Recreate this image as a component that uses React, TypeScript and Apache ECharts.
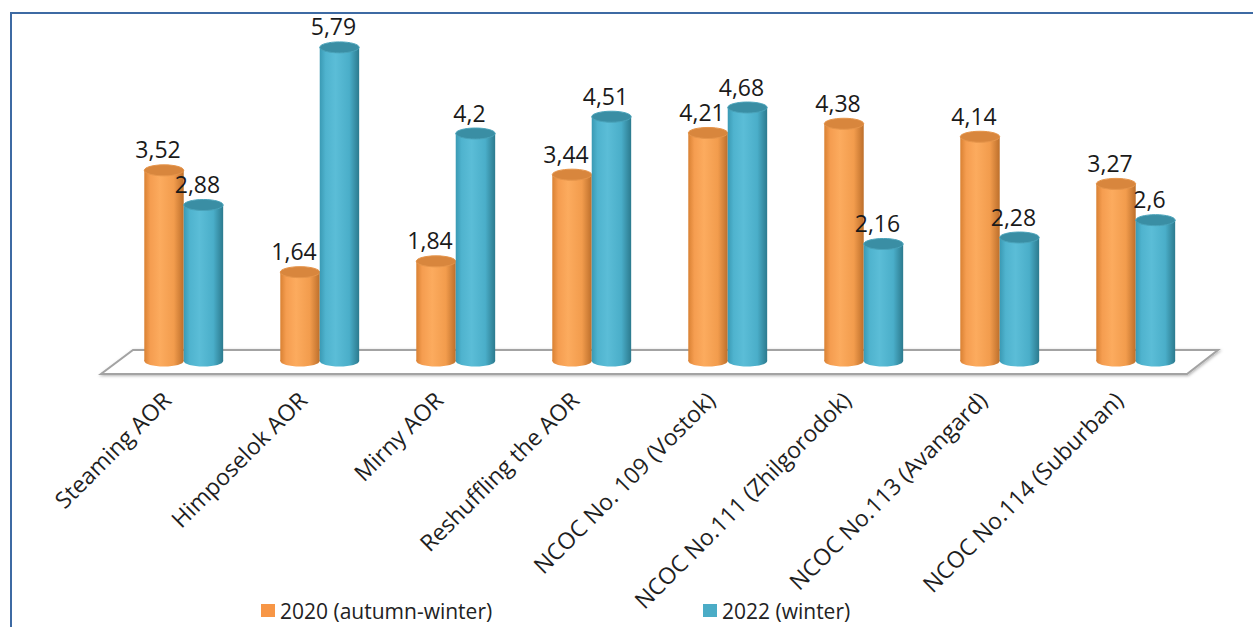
import React, { useEffect, useRef } from "react";
import * as echarts from "echarts";

const categories = [
  "Steaming AOR",
  "Himposelok AOR",
  "Mirny AOR",
  "Reshuffling the AOR",
  "NCOC No. 109 (Vostok)",
  "NCOC No.111 (Zhilgorodok)",
  "NCOC No.113 (Avangard)",
  "NCOC No.114 (Suburban)",
];
const series2020 = [3.52, 1.64, 1.84, 3.44, 4.21, 4.38, 4.14, 3.27];
const series2022 = [2.88, 5.79, 4.2, 4.51, 4.68, 2.16, 2.28, 2.6];
const seriesNames = ["2020 (autumn-winter)", "2022 (winter)"];

const FONT = "Open Sans";

const orangeBody = [
  { offset: 0, color: "#d98133" },
  { offset: 0.15, color: "#f59d50" },
  { offset: 0.4, color: "#fcab5e" },
  { offset: 0.75, color: "#f29c4d" },
  { offset: 1, color: "#bd6f2b" },
];
const blueBody = [
  { offset: 0, color: "#3a9ab4" },
  { offset: 0.15, color: "#4fb3ce" },
  { offset: 0.4, color: "#5bbdd7" },
  { offset: 0.75, color: "#4aaec9" },
  { offset: 1, color: "#2c7a8e" },
];

function fmt(v: number) {
  return String(v).replace(".", ",");
}

function makeRender(offsetFrac: number, body: any[], topColor: string, rimColor: string) {
  return (params: any, api: any) => {
    const i = api.value(0);
    const v = api.value(1);
    const top = api.coord([i, v]);
    const base = api.coord([i, 0]);
    const bw = api.size([1, 0])[0];
    const w = bw * 0.29;
    const cx = top[0] + bw * offsetFrac;
    const rx = w / 2;
    const ry = 5.5;
    const grad = { type: "linear", x: 0, y: 0, x2: 1, y2: 0, colorStops: body };
    return {
      type: "group",
      children: [
        {
          type: "ellipse",
          shape: { cx, cy: base[1], rx, ry },
          style: { fill: grad },
        },
        {
          type: "rect",
          shape: { x: cx - rx, y: top[1], width: w, height: base[1] - top[1] },
          style: { fill: grad },
        },
        {
          type: "ellipse",
          shape: { cx, cy: top[1], rx, ry },
          style: { fill: topColor, stroke: rimColor, lineWidth: 1 },
        },
        {
          type: "text",
          x: cx - 6,
          y: top[1] - ry - 4,
          style: {
            text: fmt(v),
            fontFamily: FONT,
            fontSize: 23,
            fill: "#1a1a1a",
            align: "center",
            verticalAlign: "bottom",
          },
        },
      ],
    };
  };
}

export default function App() {
  const ref = useRef<HTMLDivElement>(null);
  useEffect(() => {
    const chart = echarts.init(ref.current!, null, { renderer: "svg" });
    const legendBase = {
      top: 600,
      padding: 0,
      itemWidth: 14,
      itemHeight: 13,
      icon: "rect",
      textStyle: { fontFamily: FONT, fontSize: 21, color: "#222" },
    };
    chart.setOption({
      animation: false,
      backgroundColor: "#ffffff",
      grid: { left: 116, right: 49, top: 36, bottom: 266, containLabel: false },
      legend: [
        { ...legendBase, left: 261, data: [seriesNames[0]] },
        { ...legendBase, left: 703, data: [seriesNames[1]] },
      ],
      xAxis: {
        type: "category",
        data: categories,
        axisLine: { show: false },
        axisTick: { show: false },
        axisLabel: {
          rotate: 45,
          interval: 0,
          margin: 17,
          padding: [0, 25, 0, 0],
          fontFamily: FONT,
          fontSize: 23,
          color: "#1f1f1f",
        },
      },
      yAxis: { type: "value", min: 0, max: 6, show: false },
      graphic: [
        {
          type: "rect",
          z: 0,
          shape: { x: 11, y: 13, width: 1400, height: 800 },
          style: { fill: "none", stroke: "#3d6aa3", lineWidth: 2 },
        },
        {
          type: "polygon",
          z: 0,
          shape: {
            points: [
              [133, 350],
              [1218, 350],
              [1187, 374],
              [101, 374],
            ],
          },
          style: {
            fill: "#ffffff",
            stroke: "#a3a3a3",
            lineWidth: 2,
            shadowBlur: 3,
            shadowOffsetX: 1,
            shadowOffsetY: 1,
            shadowColor: "rgba(0,0,0,0.3)",
          },
        },
      ],
      series: [
        {
          name: seriesNames[0],
          type: "custom",
          z: 3,
          itemStyle: { color: "#f79646" },
          encode: { x: 0, y: 1 },
          data: series2020.map((v, i) => [i, v]),
          renderItem: makeRender(-0.147, orangeBody, "#d8863d", "#e6954b"),
        },
        {
          name: seriesNames[1],
          type: "custom",
          z: 4,
          itemStyle: { color: "#4bacc6" },
          encode: { x: 0, y: 1 },
          data: series2022.map((v, i) => [i, v]),
          renderItem: makeRender(0.143, blueBody, "#3a8ea4", "#4aa3ba"),
        },
      ],
    });
    return () => chart.dispose();
  }, []);
  return (
    <div
      ref={ref}
      style={{ position: "fixed", left: 0, top: 0, width: 1253, height: 627 }}
    />
  );
}
